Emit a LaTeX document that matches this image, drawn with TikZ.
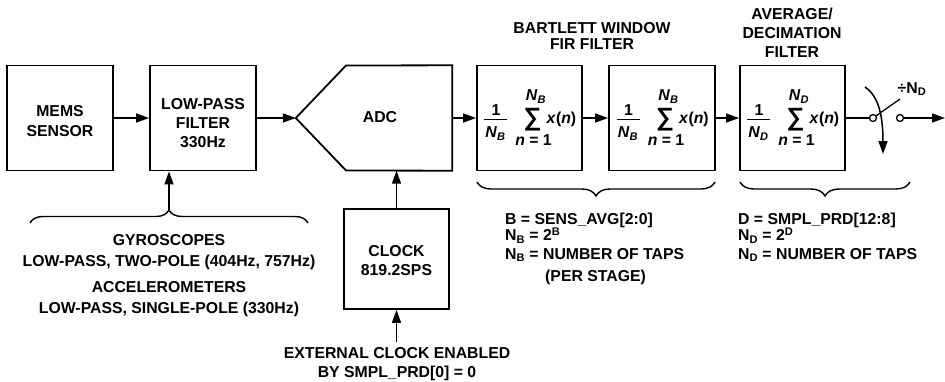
\documentclass[tikz,border=0pt]{standalone}
\usepackage{fontspec}
\setmainfont{Liberation Sans}
\usetikzlibrary{arrows.meta,calc,decorations.pathreplacing}
\newcommand\fircontent[2]{%
  \begin{scope}[shift={(#1.center)}]
    \node[mtxt, anchor=base] at (-33.5,-2.5) {1};
    \draw[line width=1.1pt] (-45.5,1.5) -- (-22.5,1.5);
    \node[mtxt, anchor=base] at (-34,19.5) {\textit{N}\textsubscript{\textit{#2}}};
    \node[inner sep=0, font=\bfseries\fontsize{25}{25}\selectfont] at (3,2) {∑};
    \node[mtxt, anchor=base] at (6.5,-17.5) {\textit{N}\textsubscript{\textit{#2}}};
    \node[mtxt, anchor=base] at (4,27.5) {\textit{n} = 1};
    \node[mtxt, anchor=base west] at (17,5.5) {\textit{x}(\textit{n})};
  \end{scope}}
\begin{document}
\begin{tikzpicture}[x=1pt,y=-1pt,
  box/.style={draw, line width=1.8pt, minimum width=105pt, minimum height=105pt, inner sep=0},
  conn/.style={line width=1.5pt, -{Triangle[length=13pt,width=9pt]}},
  plain/.style={line width=1.5pt},
  txt/.style={font=\bfseries\fontsize{15.8}{19}\selectfont, inner sep=0},
  mtxt/.style={font=\bfseries\fontsize{15.8}{19}\selectfont, inner sep=0},
  brc/.style={line width=1.4pt, decorate}]
\useasboundingbox (0,0) rectangle (945,381);

% boxes
\node[box, minimum width=106pt] (mems) at (60,118) {};
\node[box, minimum width=106pt] (lpf) at (203,118) {};
\node[minimum width=156pt, minimum height=105pt, inner sep=0] (adc) at (374,118) {};
\draw[line width=1.8pt] (adc.west) -- (346,65.5) -- (adc.north east) -- (adc.south east) -- (346,170.5) -- cycle;
\node[box] (fir1) at (529.5,118) {};
\node[box, minimum width=106pt] (fir2) at (662,118) {};
\node[box] (dec) at (792.5,118) {};
\node[box, minimum height=100pt] (clock) at (396.5,259) {};

% box texts
\node[txt, anchor=base] at (60,116.5) {MEMS};
\node[txt, anchor=base] at (60,136) {SENSOR};
\node[txt, anchor=base] at (203,109) {LOW-PASS};
\node[txt, anchor=base] at (203,128) {FILTER};
\node[txt, anchor=base] at (203,147) {330Hz};
\node[txt, anchor=base] at (380,122.5) {ADC};
\node[txt, anchor=base] at (396.5,256.5) {CLOCK};
\node[txt, anchor=base] at (396.5,275.5) {819.2SPS};

\fircontent{fir1}{B}
\fircontent{fir2}{B}
\fircontent{dec}{D}

% titles
\node[txt, anchor=base] at (592,33) {BARTLETT WINDOW};
\node[txt, anchor=base] at (592,49) {FIR FILTER};
\node[txt, anchor=base] at (792,19.5) {AVERAGE/};
\node[txt, anchor=base] at (792,38) {DECIMATION};
\node[txt, anchor=base] at (792,57) {FILTER};

% switch
\node[circle, draw, line width=1.3pt, minimum size=7pt, inner sep=0] (lc) at (873,118) {};
\node[circle, draw, line width=1.3pt, minimum size=7pt, inner sep=0] (rc) at (900,118) {};
\coordinate (lev) at (900,99);
\coordinate (out) at (945,118);
\coordinate (sa) at (865,87);
\coordinate (sb) at (883,154);
\draw[line width=1.3pt] ($(lc)!3.5pt!(lev)$) -- (lev);
\draw[conn] (sa) .. controls (877,95) and (883,112) .. (sb);
\node[txt, anchor=base] at (912,93) {÷N\textsubscript{D}};

% connectors
\draw[conn] (mems.east) -- (lpf.west);
\draw[conn] (lpf.east) -- (adc.west);
\draw[conn] (adc.east) -- (fir1.west);
\draw[conn] (fir1.east) -- (fir2.west);
\draw[conn] (fir2.east) -- (dec.west);
\draw[plain] (dec.east) -- (lc.west);
\draw[conn] (rc.east) -- (out);
\draw[conn] (clock.north) -- (clock.north |- adc.south);

% braces
\draw[brc, decoration={brace, amplitude=13pt}] (30,223) -- (308,223);
\coordinate (lbtip) at (169,210);
\draw[conn] (lbtip) -- (lbtip |- lpf.south);
\draw[brc, decoration={brace, amplitude=14pt, mirror}] (477,182) -- (715,182);
\draw[brc, decoration={brace, amplitude=14pt, mirror}] (740,182) -- (910,182);

% lowpass texts
\node[txt, anchor=base] at (169,245) {GYROSCOPES};
\node[txt, anchor=base] at (169,266.5) {LOW-PASS, TWO-POLE (404Hz, 757Hz)};
\node[txt, anchor=base] at (169,292.5) {ACCELEROMETERS};
\node[txt, anchor=base] at (169,313.5) {LOW-PASS, SINGLE-POLE (330Hz)};

% external clock
\node[txt, anchor=base] at (397,358.5) {EXTERNAL CLOCK ENABLED};
\node[txt, anchor=base] at (397,377.5) {BY SMPL\_PRD[0] = 0};
\coordinate (extn) at (396.5,342);
\draw[conn] (extn) -- (clock.south);

% config texts
\node[txt, anchor=base west] at (505,224) {B = SENS\_AVG[2:0]};
\node[txt, anchor=base west] at (505,240.5) {N\textsubscript{B} = 2\textsuperscript{B}};
\node[txt, anchor=base west] at (505,259) {N\textsubscript{B} = NUMBER OF TAPS};
\node[txt, anchor=base west] at (545,281.5) {(PER STAGE)};
\node[txt, anchor=base west] at (738,224) {D = SMPL\_PRD[12:8]};
\node[txt, anchor=base west] at (738,240.5) {N\textsubscript{D} = 2\textsuperscript{D}};
\node[txt, anchor=base west] at (738,259) {N\textsubscript{D} = NUMBER OF TAPS};
\end{tikzpicture}
\end{document}
